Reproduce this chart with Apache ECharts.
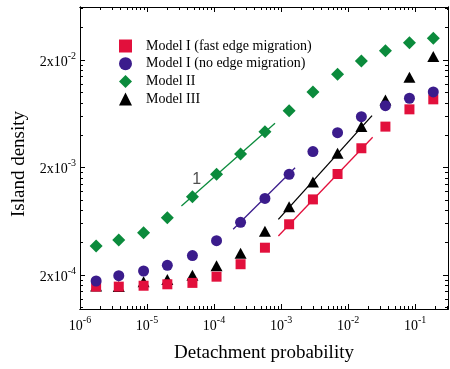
<!DOCTYPE html>
<html>
<head>
<meta charset="utf-8">
<script src="https://cdn.jsdelivr.net/npm/echarts@6/dist/echarts.min.js"></script>
<style>html,body{margin:0;padding:0;background:#fff}#c{width:450px;height:369px}</style>
</head>
<body>
<div id="c"></div>
<script>
// ---- data ----
const xValues = [1.74e-6, 3.79e-6, 8.89e-6, 2.01e-5, 4.76e-5, 1.09e-4, 2.49e-4, 5.75e-4, 1.32e-3, 2.99e-3, 6.97e-3, 1.58e-2, 3.61e-2, 8.24e-2, 0.187];
const modelIFast   = [1.56e-4, 1.56e-4, 1.59e-4, 1.64e-4, 1.69e-4, 1.93e-4, 2.52e-4, 3.59e-4, 5.93e-4, 1.01e-3, 1.74e-3, 3.02e-3, 4.80e-3, 6.95e-3, 8.61e-3];
const modelINoEdge = [1.76e-4, 1.97e-4, 2.18e-4, 2.46e-4, 3.03e-4, 4.17e-4, 6.18e-4, 1.03e-3, 1.73e-3, 2.81e-3, 4.22e-3, 5.94e-3, 7.52e-3, 8.81e-3, 1.01e-2];
const modelII      = [3.72e-4, 4.23e-4, 4.94e-4, 6.82e-4, 1.07e-3, 1.73e-3, 2.67e-3, 4.31e-3, 6.75e-3, 1.01e-2, 1.47e-2, 1.96e-2, 2.44e-2, 2.90e-2, 3.19e-2];
const modelIII     = [1.58e-4, 1.56e-4, 1.73e-4, 1.82e-4, 1.99e-4, 2.44e-4, 3.18e-4, 5.10e-4, 8.63e-4, 1.47e-3, 2.71e-3, 4.80e-3, 8.49e-3, 1.38e-2, 2.15e-2];

const fitIFast   = [[9.12e-4, 4.61e-4], [2.33e-2, 3.82e-3]];
const fitINoEdge = [[1.93e-4, 5.32e-4], [1.62e-3, 1.99e-3]];
const fitII      = [[3.26e-5, 8.77e-4], [8.13e-4, 5.15e-3]];
const fitIII     = [[9.12e-4, 6.59e-4], [2.28e-2, 6.07e-3]];

const annotation = {text: '1', x: 5.5e-5, y: 1.55e-3};

const seriesNames = ['Model I (fast edge migration)', 'Model I (no edge migration)', 'Model II', 'Model III'];

const xMajor = [1e-6, 1e-5, 1e-4, 1e-3, 1e-2, 1e-1];
const xMinor = [];
for (let e = -6; e <= -1; e++) for (let k = 2; k <= 9; k++) xMinor.push(k * Math.pow(10, e));
const yMajor = [2e-4, 2e-3, 2e-2];
const yMinor = [];
for (let e = -5; e <= -2; e++) for (let k = 4; k <= 18; k += 2) yMinor.push(k * Math.pow(10, e));

const xMin = 1e-6, xMax = 0.31, yMin = 9.66e-5, yMax = 0.0622;

// ---- styles ----
const RED = '#e2103c', PURPLE = '#3b1c8c', GREEN = '#0b8b3c', BLACK = '#000000';
const SERIF = '"Liberation Serif", "Times New Roman", serif';

function pair(a) { return xValues.map((x, i) => [x, a[i]]); }

function xAxisDef(pos, major, showLabel) {
  return {
    type: 'log', logBase: 10, min: xMin, max: xMax, position: pos, gridIndex: 0,
    axisLine: {show: true, onZero: false, lineStyle: {color: '#000', width: 1}},
    axisTick: {show: true, inside: true, length: major ? 5 : 3, lineStyle: {color: '#000'}, customValues: major ? xMajor : xMinor},
    axisLabel: showLabel ? {
      show: true, margin: 6, customValues: xMajor,
      formatter: v => '{b|10}{s|' + Math.round(Math.log10(v)) + '}',
      rich: {
        b: {fontFamily: SERIF, fontSize: 14, color: '#000', lineHeight: 18, verticalAlign: 'bottom'},
        s: {fontFamily: SERIF, fontSize: 10, color: '#000', lineHeight: 10, verticalAlign: 'top'}
      }
    } : {show: false},
    splitLine: {show: false}, minorTick: {show: false}, minorSplitLine: {show: false}
  };
}
function yAxisDef(pos, major, showLabel) {
  return {
    type: 'log', logBase: 10, min: yMin, max: yMax, position: pos, gridIndex: 0,
    axisLine: {show: true, onZero: false, lineStyle: {color: '#000', width: 1}},
    axisTick: {show: true, inside: true, length: major ? 5 : 3, lineStyle: {color: '#000'}, customValues: major ? yMajor : yMinor},
    axisLabel: showLabel ? {
      show: true, margin: 4, customValues: yMajor,
      formatter: v => '{b|2x10}{s|' + Math.round(Math.log10(v / 2)) + '}',
      rich: {
        b: {fontFamily: SERIF, fontSize: 14, color: '#000', lineHeight: 18, verticalAlign: 'bottom'},
        s: {fontFamily: SERIF, fontSize: 10, color: '#000', lineHeight: 10, verticalAlign: 'top'}
      }
    } : {show: false},
    splitLine: {show: false}, minorTick: {show: false}, minorSplitLine: {show: false}
  };
}

const xAxes = [xAxisDef('bottom', true, true), xAxisDef('bottom', false, false), xAxisDef('top', true, false), xAxisDef('top', false, false)];
xAxes[0].name = 'Detachment probability';
xAxes[0].nameLocation = 'middle';
xAxes[0].nameGap = 35;
xAxes[0].nameTextStyle = {fontFamily: SERIF, fontSize: 19, color: '#000'};

const yAxes = [yAxisDef('left', true, true), yAxisDef('left', false, false), yAxisDef('right', true, false), yAxisDef('right', false, false)];
yAxes[0].name = 'Island density';
yAxes[0].nameLocation = 'middle';
yAxes[0].nameGap = 50;
yAxes[0].nameTextStyle = {fontFamily: SERIF, fontSize: 19, color: '#000', padding: [0, 12, 0, 0]};

function fitLine(data, color) {
  return {type: 'line', data: data, symbol: 'none', silent: true, z: 1,
    lineStyle: {color: color, width: 1.3}, xAxisIndex: 0, yAxisIndex: 0, legendHoverLink: false};
}
function scatter(name, data, color, symbol, size) {
  return {type: 'scatter', name: name, data: pair(data), symbol: symbol, symbolSize: size,
    itemStyle: {color: color, opacity: 1}, xAxisIndex: 0, yAxisIndex: 0, z: 3};
}

const chart = echarts.init(document.getElementById('c'), null, {renderer: 'canvas'});
chart.setOption({
  animation: false,
  backgroundColor: '#fff',
  grid: {left: 80, right: 2, top: 7, bottom: 60},
  xAxis: xAxes,
  yAxis: yAxes,
  legend: {
    data: seriesNames, orient: 'vertical', left: 114, top: 34,
    itemWidth: 13, itemHeight: 13, itemGap: 3.7, selectedMode: false,
    formatter: name => '{t|' + name + '}',
    textStyle: {fontFamily: SERIF, fontSize: 14, color: '#000',
      rich: {t: {fontFamily: SERIF, fontSize: 14, color: '#000', padding: [0, 0, 0, 9]}}}
  },
  series: [
    fitLine(fitIFast, RED),
    fitLine(fitINoEdge, PURPLE),
    fitLine(fitII, GREEN),
    fitLine(fitIII, BLACK),
    scatter(seriesNames[3], modelIII, BLACK, 'triangle', [12, 11]),
    scatter(seriesNames[0], modelIFast, RED, 'rect', 10),
    scatter(seriesNames[1], modelINoEdge, PURPLE, 'circle', 11),
    scatter(seriesNames[2], modelII, GREEN, 'diamond', 13),
    {type: 'scatter', data: [[annotation.x, annotation.y]], symbolSize: 0, silent: true,
      label: {show: true, position: 'inside', formatter: annotation.text,
        fontFamily: '"Liberation Sans", Arial, sans-serif', fontSize: 16, color: '#222'}}
  ]
});
</script>
</body>
</html>
